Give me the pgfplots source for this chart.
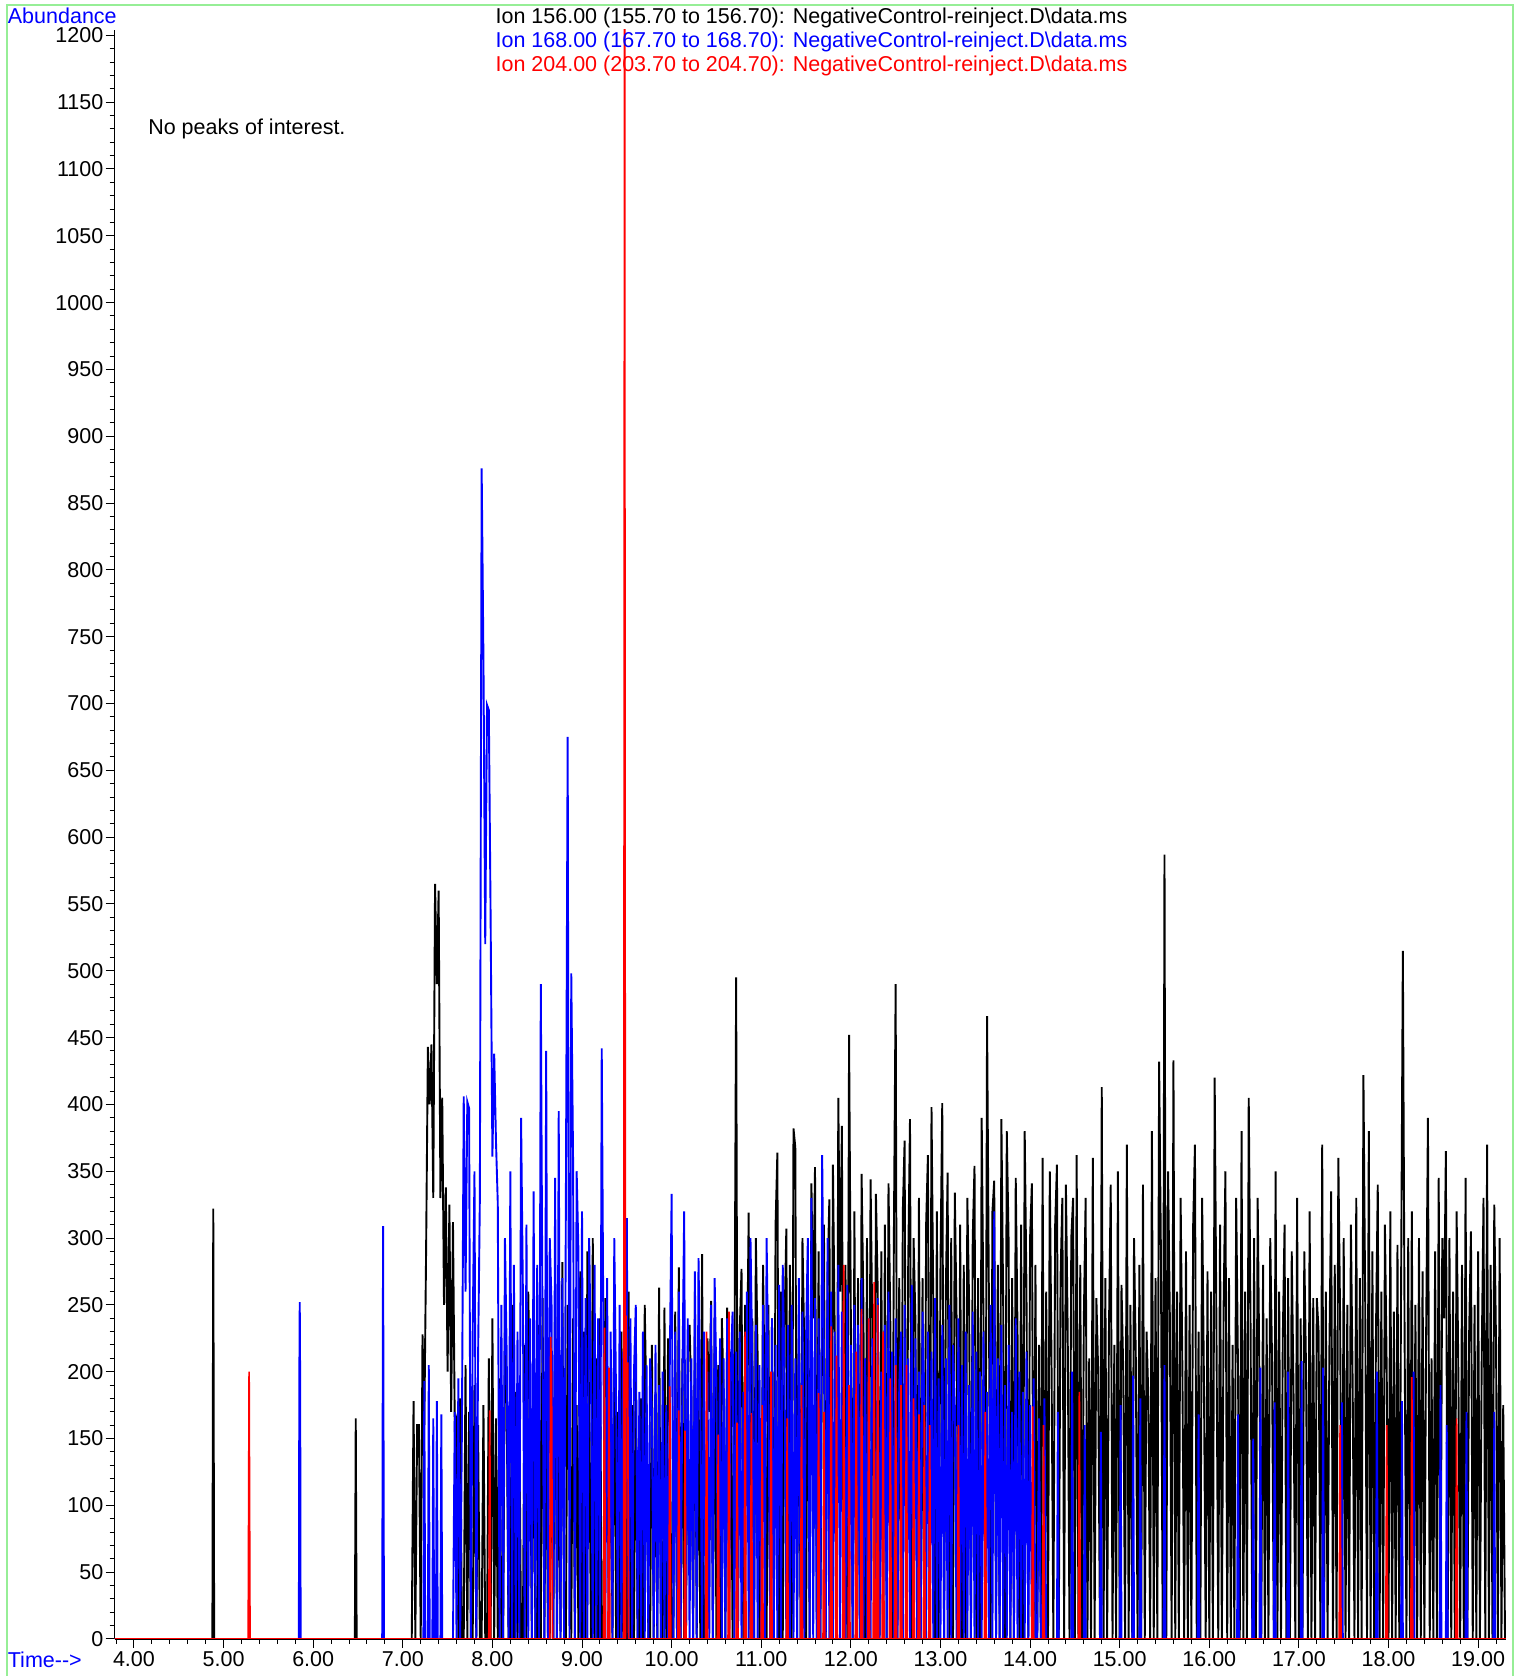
\documentclass[border=0pt]{standalone}
\usepackage{fontspec}
\setmainfont{Liberation Sans}
\usepackage{pgfplots}
\pgfplotsset{compat=1.18}
\definecolor{framegreen}{RGB}{150,238,150}
\begin{document}
\begin{tikzpicture}[font=\fontsize{10.75}{12}\selectfont]
\begin{axis}[
  at={(0pt,0pt)}, anchor=south west,
  scale only axis, width=695.6pt, height=804.5pt,
  xmin=3.785, xmax=19.31, ymin=0, ymax=1204,
  axis lines*=left, axis line style={-},
  tick align=outside,
  major tick length=4.5pt, minor tick length=2.5pt,
  tick style={black, line width=0.5pt},
  xtick={4,5,...,19},
  minor xtick={3.8,4.0,...,19.2},
  ytick={0,50,...,1200},
  minor ytick={0,10,...,1200},
  xticklabel={\pgfmathprintnumber[fixed,fixed zerofill,precision=2,assume math mode=true]{\tick}},
  yticklabel={\pgfmathprintnumber[fixed,precision=0,1000 sep={},assume math mode=true]{\tick}},
  xticklabel style={inner ysep=1.5pt},
  yticklabel style={inner xsep=1pt},
]
% Ion 156
\addplot[black, line width=0.95pt] coordinates {
(3.785,0)(4.875,0)(4.885,322)(4.895,0)(6.465,0)(6.475,165)(6.485,0)
(7.10,0)(7.12,178)(7.14,0)(7.16,160)(7.18,160)(7.20,0)(7.22,228)(7.24,160)(7.26,290)(7.28,443)(7.30,400)(7.32,445)(7.34,330)(7.36,565)(7.38,490)(7.40,560)(7.42,330)(7.44,405)(7.46,250)(7.48,338)(7.50,200)(7.52,325)(7.54,170)(7.56,312)(7.58,160)
(7.60,165)(7.62,0)(7.64,180)(7.66,0)(7.68,0)(7.70,205)(7.72,0)(7.74,170)(7.76,0)(7.78,0)(7.80,190)(7.82,0)(7.84,160)(7.86,0)(7.88,0)(7.90,175)(7.92,0)(7.94,0)(7.96,210)(7.98,0)(8.00,240)(8.02,0)(8.04,165)(8.06,0)(8.08,195)
(8.10,0)(8.12,0)(8.14,230)(8.16,175)(8.18,0)(8.20,0)(8.22,250)(8.24,0)(8.26,185)(8.28,0)(8.30,170)(8.32,0)(8.34,0)(8.36,220)(8.38,0)(8.40,260)(8.42,175)(8.44,0)(8.46,190)(8.48,0)(8.50,0)(8.52,235)(8.54,0)(8.56,255)(8.58,0)
(8.60,180)(8.62,0)(8.64,0)(8.66,200)(8.68,0)(8.70,265)(8.72,0)(8.74,170)(8.76,0)(8.78,282)(8.80,0)(8.82,0)(8.84,250)(8.86,190)(8.88,0)(8.90,240)(8.92,0)(8.94,175)(8.96,0)(8.98,275)(9.00,0)(9.02,230)(9.04,0)(9.06,290)(9.08,165)
(9.10,0)(9.12,300)(9.14,0)(9.16,210)(9.18,0)(9.20,240)(9.22,0)(9.24,0)(9.26,255)(9.28,180)(9.30,0)(9.32,200)(9.34,0)(9.36,245)(9.38,0)(9.40,170)(9.42,0)(9.44,230)(9.46,0)(9.48,190)(9.50,0)(9.52,260)(9.54,0)(9.56,175)(9.58,0)
(9.60,210)(9.62,0)(9.64,0)(9.66,180)(9.68,0)(9.70,250)(9.72,165)(9.74,0)(9.76,0)(9.78,220)(9.80,0)(9.82,185)(9.84,0)(9.86,263)(9.88,0)(9.90,0)(9.92,248)(9.94,0)(9.96,225)(9.98,170)(10.00,0)(10.02,0)(10.04,245)(10.06,0)(10.08,278)
(10.10,0)(10.12,210)(10.14,0)(10.16,0)(10.18,218)(10.20,235)(10.22,180)(10.24,0)(10.26,260)(10.28,0)(10.30,195)(10.32,0)(10.34,288)(10.36,0)(10.38,0)(10.40,225)(10.42,170)(10.44,253)(10.46,0)(10.48,240)(10.50,0)(10.52,205)(10.54,0)(10.56,240)(10.58,185)
(10.60,0)(10.62,248)(10.64,0)(10.66,215)(10.68,0)(10.70,180)(10.72,495)(10.74,0)(10.76,230)(10.78,277)(10.80,0)(10.82,250)(10.84,195)(10.86,319)(10.88,0)(10.90,240)(10.92,0)(10.94,300)(10.96,210)(10.98,0)(11.00,0)(11.02,280)(11.04,175)(11.06,0)(11.08,250)
(11.10,0)(11.12,240)(11.14,0)(11.16,310)(11.18,364)(11.20,0)(11.22,260)(11.24,0)(11.26,235)(11.28,307)(11.30,0)(11.32,280)(11.34,0)(11.36,382)(11.38,368)(11.40,0)(11.42,250)(11.44,0)(11.46,300)(11.48,220)(11.50,0)(11.52,270)(11.54,0)(11.56,341)(11.58,240)
(11.60,353)(11.62,0)(11.64,290)(11.66,0)(11.68,250)(11.70,310)(11.72,0)(11.74,270)(11.76,329)(11.78,0)(11.80,355)(11.82,230)(11.84,0)(11.86,405)(11.88,260)(11.90,384)(11.92,0)(11.94,280)(11.96,0)(11.98,452)(12.00,240)(12.02,0)(12.04,320)(12.06,0)(12.08,270)
(12.10,0)(12.12,348)(12.14,250)(12.16,0)(12.18,300)(12.20,0)(12.22,344)(12.24,230)(12.26,0)(12.28,333)(12.30,260)(12.32,0)(12.34,290)(12.36,0)(12.38,310)(12.40,0)(12.42,341)(12.44,240)(12.46,0)(12.48,300)(12.50,490)(12.52,0)(12.54,270)(12.56,0)(12.58,320)
(12.60,373)(12.62,0)(12.64,280)(12.66,389)(12.68,0)(12.70,300)(12.72,240)(12.74,0)(12.76,330)(12.78,0)(12.80,270)(12.82,0)(12.84,310)(12.86,362)(12.88,0)(12.90,398)(12.92,250)(12.94,0)(12.96,320)(12.98,0)(13.00,280)(13.02,401)(13.04,0)(13.06,260)(13.08,349)
(13.10,0)(13.12,300)(13.14,0)(13.16,334)(13.18,240)(13.20,0)(13.22,310)(13.24,0)(13.26,280)(13.28,0)(13.30,330)(13.32,250)(13.34,0)(13.36,300)(13.38,354)(13.40,0)(13.42,270)(13.44,0)(13.46,390)(13.48,240)(13.50,0)(13.52,466)(13.54,260)(13.56,0)(13.58,320)
(13.60,343)(13.62,0)(13.64,280)(13.66,0)(13.68,389)(13.70,250)(13.72,0)(13.74,380)(13.76,300)(13.78,0)(13.80,270)(13.82,0)(13.84,345)(13.86,230)(13.88,0)(13.90,310)(13.92,0)(13.94,380)(13.96,260)(13.98,0)(14.00,300)(14.02,341)(14.04,0)(14.06,280)(14.08,0)
(14.10,220)(14.12,0)(14.14,360)(14.16,0)(14.18,260)(14.20,0)(14.22,350)(14.24,200)(14.26,0)(14.28,310)(14.30,355)(14.32,0)(14.34,270)(14.36,330)(14.38,0)(14.40,340)(14.42,230)(14.44,0)(14.46,300)(14.48,330)(14.50,0)(14.52,362)(14.54,0)(14.56,280)(14.58,0)
(14.60,240)(14.62,330)(14.64,0)(14.66,210)(14.68,0)(14.70,360)(14.72,0)(14.74,255)(14.76,200)(14.78,0)(14.80,413)(14.82,0)(14.84,270)(14.86,0)(14.88,230)(14.90,340)(14.92,0)(14.94,220)(14.96,0)(14.98,350)(15.00,0)(15.02,265)(15.04,200)(15.06,0)(15.08,370)
(15.10,0)(15.12,250)(15.14,0)(15.16,300)(15.18,210)(15.20,0)(15.22,280)(15.24,0)(15.26,340)(15.28,0)(15.30,230)(15.32,180)(15.34,0)(15.36,380)(15.38,0)(15.40,270)(15.42,0)(15.44,432)(15.46,290)(15.48,0)(15.50,587)(15.52,0)(15.54,350)(15.56,240)(15.58,0)
(15.60,433)(15.62,0)(15.64,260)(15.66,0)(15.68,330)(15.70,200)(15.72,0)(15.74,290)(15.76,0)(15.78,250)(15.80,0)(15.82,310)(15.84,370)(15.86,0)(15.88,230)(15.90,0)(15.92,330)(15.94,195)(15.96,0)(15.98,275)(16.00,0)(16.02,260)(16.04,0)(16.06,420)(16.08,230)
(16.10,0)(16.12,310)(16.14,0)(16.16,250)(16.18,350)(16.20,0)(16.22,270)(16.24,0)(16.26,220)(16.28,0)(16.30,330)(16.32,205)(16.34,0)(16.36,380)(16.38,0)(16.40,260)(16.42,0)(16.44,405)(16.46,240)(16.48,0)(16.50,300)(16.52,0)(16.54,330)(16.56,190)(16.58,0)
(16.60,280)(16.62,0)(16.64,240)(16.66,0)(16.68,300)(16.70,210)(16.72,0)(16.74,350)(16.76,0)(16.78,260)(16.80,0)(16.82,225)(16.84,310)(16.86,0)(16.88,270)(16.90,0)(16.92,290)(16.94,185)(16.96,0)(16.98,330)(17.00,0)(17.02,240)(17.04,0)(17.06,290)(17.08,200)
(17.10,0)(17.12,320)(17.14,0)(17.16,255)(17.18,0)(17.20,255)(17.22,230)(17.24,0)(17.26,370)(17.28,0)(17.30,260)(17.32,0)(17.34,215)(17.36,335)(17.38,0)(17.40,280)(17.42,0)(17.44,360)(17.46,240)(17.48,0)(17.50,300)(17.52,0)(17.54,250)(17.56,0)(17.58,310)
(17.60,190)(17.62,0)(17.64,330)(17.66,0)(17.68,270)(17.70,0)(17.72,422)(17.74,250)(17.76,0)(17.78,380)(17.80,0)(17.82,290)(17.84,0)(17.86,230)(17.88,340)(17.90,0)(17.92,260)(17.94,0)(17.96,310)(17.98,200)(18.00,0)(18.02,320)(18.04,0)(18.06,245)(18.08,0)
(18.10,295)(18.12,0)(18.14,260)(18.16,515)(18.18,220)(18.20,0)(18.22,300)(18.24,0)(18.26,320)(18.28,0)(18.30,250)(18.32,0)(18.34,300)(18.36,0)(18.38,275)(18.40,0)(18.42,230)(18.44,390)(18.46,0)(18.48,210)(18.50,0)(18.52,290)(18.54,0)(18.56,345)(18.58,0)
(18.60,300)(18.62,240)(18.64,365)(18.66,0)(18.68,300)(18.70,0)(18.72,260)(18.74,0)(18.76,320)(18.78,195)(18.80,0)(18.82,280)(18.84,0)(18.86,345)(18.88,0)(18.90,230)(18.92,305)(18.94,0)(18.96,250)(18.98,0)(19.00,290)(19.02,0)(19.04,210)(19.06,330)(19.08,0)
(19.10,370)(19.12,0)(19.14,280)(19.16,0)(19.18,325)(19.20,220)(19.22,0)(19.24,300)(19.26,0)(19.28,175)(19.30,0)(19.31,0)
};
% Ion 168
\addplot[blue, line width=0.95pt] coordinates {
(3.785,0)(5.84,0)(5.845,190)(5.85,252)(5.855,188)(5.86,0)(6.77,0)(6.78,309)(6.79,0)
(7.23,0)(7.24,193)(7.25,0)(7.28,0)(7.29,205)(7.30,0)(7.33,0)(7.34,165)(7.35,0)(7.37,0)(7.38,178)(7.39,0)(7.42,0)(7.43,168)(7.44,0)
(7.56,0)(7.58,170)(7.60,0)(7.62,195)(7.64,0)(7.66,160)(7.68,406)(7.70,260)(7.72,402)(7.74,397)(7.76,0)(7.78,230)(7.80,350)(7.82,0)(7.84,210)(7.86,330)(7.88,876)(7.90,733)(7.92,520)(7.94,699)(7.96,695)(7.98,540)(8.00,361)(8.02,438)(8.04,372)(8.06,326)
(8.08,0)(8.10,250)(8.12,0)(8.14,300)(8.16,210)(8.18,0)(8.20,350)(8.22,0)(8.24,280)(8.26,0)(8.28,230)(8.30,0)(8.32,390)(8.34,260)(8.36,0)(8.38,310)(8.40,0)(8.42,240)(8.44,0)(8.46,335)(8.48,0)(8.50,280)(8.52,0)(8.54,490)(8.56,220)
(8.58,0)(8.60,440)(8.62,0)(8.64,300)(8.66,250)(8.68,0)(8.70,345)(8.72,0)(8.74,395)(8.76,0)(8.78,270)(8.80,0)(8.82,330)(8.84,675)(8.86,0)(8.88,498)(8.90,360)(8.92,0)(8.94,350)(8.96,290)(8.98,0)(9.00,320)(9.02,0)(9.04,255)(9.06,0)
(9.08,300)(9.10,200)(9.12,0)(9.14,280)(9.16,0)(9.18,240)(9.20,0)(9.22,442)(9.24,210)(9.26,0)(9.28,270)(9.30,0)(9.32,230)(9.34,0)(9.36,300)(9.38,180)(9.40,0)(9.42,250)(9.44,0)(9.46,215)(9.48,0)(9.50,315)(9.52,0)(9.54,240)(9.56,0)
(9.58,200)(9.60,250)(9.62,0)(9.64,185)(9.66,0)(9.68,230)(9.70,0)(9.72,205)(9.74,0)(9.76,210)(9.78,170)(9.80,0)(9.82,220)(9.84,0)(9.86,190)(9.88,0)(9.90,200)(9.92,0)(9.94,175)(9.96,0)(9.98,210)(10.00,333)(10.02,0)(10.04,230)(10.06,0)
(10.08,260)(10.10,0)(10.12,195)(10.14,320)(10.16,0)(10.18,240)(10.20,0)(10.22,210)(10.24,0)(10.26,275)(10.28,0)(10.30,285)(10.32,180)(10.34,0)(10.36,230)(10.38,0)(10.40,200)(10.42,0)(10.44,250)(10.46,0)(10.48,270)(10.50,190)(10.52,0)(10.54,225)(10.56,0)
(10.58,210)(10.60,0)(10.62,240)(10.64,0)(10.66,200)(10.68,245)(10.70,0)(10.72,215)(10.74,0)(10.76,230)(10.78,0)(10.80,185)(10.82,0)(10.84,260)(10.86,0)(10.88,300)(10.90,210)(10.92,0)(10.94,235)(10.96,0)(10.98,205)(11.00,0)(11.02,250)(11.04,0)(11.06,300)
(11.08,190)(11.10,0)(11.12,240)(11.14,0)(11.16,220)(11.18,0)(11.20,265)(11.22,0)(11.24,280)(11.26,200)(11.28,0)(11.30,235)(11.32,0)(11.34,250)(11.36,0)(11.38,210)(11.40,0)(11.42,270)(11.44,0)(11.46,245)(11.48,0)(11.50,225)(11.52,300)(11.54,0)(11.56,330)
(11.58,0)(11.60,255)(11.62,0)(11.64,240)(11.66,0)(11.68,362)(11.70,210)(11.72,0)(11.74,300)(11.76,0)(11.78,260)(11.80,0)(11.82,230)(11.84,0)(11.86,280)(11.88,0)(11.90,245)(11.92,190)(11.94,0)(11.96,265)(11.98,0)(12.00,220)(12.02,0)(12.04,250)(12.06,0)
(12.08,235)(12.10,0)(12.12,270)(12.14,0)(12.16,210)(12.18,0)(12.20,240)(12.22,0)(12.24,225)(12.26,180)(12.28,0)(12.30,255)(12.32,0)(12.34,200)(12.36,0)(12.38,235)(12.40,0)(12.42,260)(12.44,0)(12.46,215)(12.48,0)(12.50,240)(12.52,0)(12.54,190)(12.56,230)
(12.58,0)(12.60,250)(12.62,0)(12.64,210)(12.66,0)(12.68,265)(12.70,0)(12.72,225)(12.74,0)(12.76,200)(12.78,0)(12.80,245)(12.82,180)(12.84,0)(12.86,230)(12.88,0)(12.90,215)(12.92,0)(12.94,255)(12.96,0)(12.98,195)(13.00,0)(13.02,235)(13.04,0)(13.06,210)
(13.08,0)(13.10,250)(13.12,0)(13.14,220)(13.16,175)(13.18,0)(13.20,240)(13.22,0)(13.24,205)(13.26,0)(13.28,230)(13.30,0)(13.32,190)(13.34,0)(13.36,245)(13.38,0)(13.40,215)(13.42,0)(13.44,200)(13.46,0)(13.48,230)(13.50,0)(13.52,185)(13.54,0)(13.56,250)
(13.58,0)(13.60,320)(13.62,0)(13.64,210)(13.66,0)(13.68,235)(13.70,0)(13.72,190)(13.74,0)(13.76,220)(13.78,0)(13.80,170)(13.82,0)(13.84,240)(13.86,0)(13.88,200)(13.90,0)(13.92,185)(13.94,0)(13.96,215)(13.98,0)(14.00,175)(14.02,0)(14.04,195)(14.06,0)
(14.08,0)(14.10,165)(14.12,0)(14.14,0)(14.16,180)(14.18,0)
(14.30,0)(14.31,170)(14.32,0)(14.46,0)(14.47,200)(14.48,0)(14.60,0)(14.61,160)(14.62,0)(14.78,0)(14.79,155)(14.80,0)
(15.00,0)(15.01,175)(15.02,0)(15.14,0)(15.15,197)(15.16,0)(15.22,0)(15.23,180)(15.24,0)(15.49,0)(15.50,205)(15.51,0)(15.87,0)(15.88,168)(15.89,0)
(16.31,0)(16.32,168)(16.33,0)(16.48,0)(16.49,150)(16.50,0)(16.56,0)(16.57,203)(16.58,0)(16.72,0)(16.73,177)(16.74,0)(16.87,0)(16.88,200)(16.89,0)
(17.02,0)(17.03,208)(17.04,0)(17.26,0)(17.27,203)(17.28,0)(17.47,0)(17.48,177)(17.49,0)(17.86,0)(17.87,200)(17.88,0)
(18.14,0)(18.15,178)(18.16,0)(18.27,0)(18.28,200)(18.29,0)(18.57,0)(18.58,190)(18.59,0)(18.64,0)(18.65,160)(18.66,0)(18.86,0)(18.87,170)(18.88,0)
(19.17,0)(19.18,170)(19.19,0)(19.31,0)
};
% Ion 204
\addplot[red, line width=0.85pt] coordinates {
(3.785,0)(5.275,0)(5.285,200)(5.295,0)
(7.96,0)(7.97,171)(7.98,0)(8.64,0)(8.65,226)(8.66,195)(8.67,0)
(9.24,0)(9.25,233)(9.26,0)(9.29,0)(9.30,203)(9.31,0)
(9.465,0)(9.475,1300)(9.485,0)(9.49,242)(9.50,173)(9.51,207)(9.52,0)
(9.97,0)(9.98,189)(9.99,0)(10.07,0)(10.08,171)(10.09,0)(10.14,0)(10.15,156)(10.16,0)
(10.38,0)(10.39,230)(10.40,0)(10.51,0)(10.52,153)(10.53,0)(10.63,0)(10.64,245)(10.65,0)
(10.72,0)(10.73,162)(10.74,0)(10.81,0)(10.82,230)(10.83,0)(10.88,0)(10.89,169)(10.90,0)
(11.00,0)(11.01,175)(11.02,0)(11.10,0)(11.11,200)(11.12,0)(11.28,0)(11.29,165)(11.30,0)(11.44,0)(11.45,190)(11.46,0)
(11.63,0)(11.64,184)(11.65,0)(11.69,0)(11.70,170)(11.71,0)(11.77,0)(11.78,234)(11.79,0)(11.83,0)(11.84,212)(11.85,0)
(11.91,0)(11.92,280)(11.93,0)(11.97,0)(11.98,190)(11.99,0)(12.05,0)(12.06,215)(12.07,0)(12.11,0)(12.12,247)(12.13,0)
(12.19,0)(12.20,240)(12.21,0)(12.25,0)(12.26,267)(12.27,0)(12.29,0)(12.30,250)(12.31,0)(12.35,0)(12.36,230)(12.37,0)
(12.43,0)(12.44,195)(12.45,0)(12.49,0)(12.50,205)(12.51,0)(12.55,0)(12.56,190)(12.57,0)(12.61,0)(12.62,205)(12.63,0)
(12.69,0)(12.70,180)(12.71,0)(12.75,0)(12.76,168)(12.77,0)(12.81,0)(12.82,175)(12.83,0)(12.87,0)(12.88,160)(12.89,0)
(13.19,0)(13.20,160)(13.21,0)(13.49,0)(13.50,170)(13.51,0)
(14.02,0)(14.03,174)(14.04,0)(14.14,0)(14.15,160)(14.16,0)(14.54,0)(14.55,185)(14.56,0)
(17.45,0)(17.46,160)(17.47,0)(17.97,0)(17.98,160)(17.99,0)(18.25,0)(18.26,196)(18.27,0)(18.75,0)(18.76,165)(18.77,0)
(19.31,0)
};
\end{axis}
\draw[framegreen, line width=0.8pt] (-53.85pt,-25pt) -- (-53.85pt,817pt) -- (699.15pt,817pt) -- (699.15pt,-25pt);
\node[anchor=base west, inner sep=0pt, text=blue] at (-53.6pt,807.5pt) {Abundance};
\node[anchor=base west, inner sep=0pt] at (190.25pt,807.7pt) {Ion 156.00 (155.70 to 156.70): NegativeControl-reinject.D\textbackslash data.ms};
\node[anchor=base west, inner sep=0pt, text=blue] at (190.25pt,795.5pt) {Ion 168.00 (167.70 to 168.70): NegativeControl-reinject.D\textbackslash data.ms};
\node[anchor=base west, inner sep=0pt, text=red] at (190.25pt,783.7pt) {Ion 204.00 (203.70 to 204.70): NegativeControl-reinject.D\textbackslash data.ms};
\node[anchor=base west, inner sep=0pt] at (16.6pt,752pt) {No peaks of interest.};
\node[anchor=base west, inner sep=0pt, text=blue] at (-53.6pt,-14.2pt) {Time-{}-{}>};
\pgfresetboundingbox
\path (-57.35pt,-18.5pt) rectangle (701.65pt,819.5pt);
\end{tikzpicture}
\end{document}
